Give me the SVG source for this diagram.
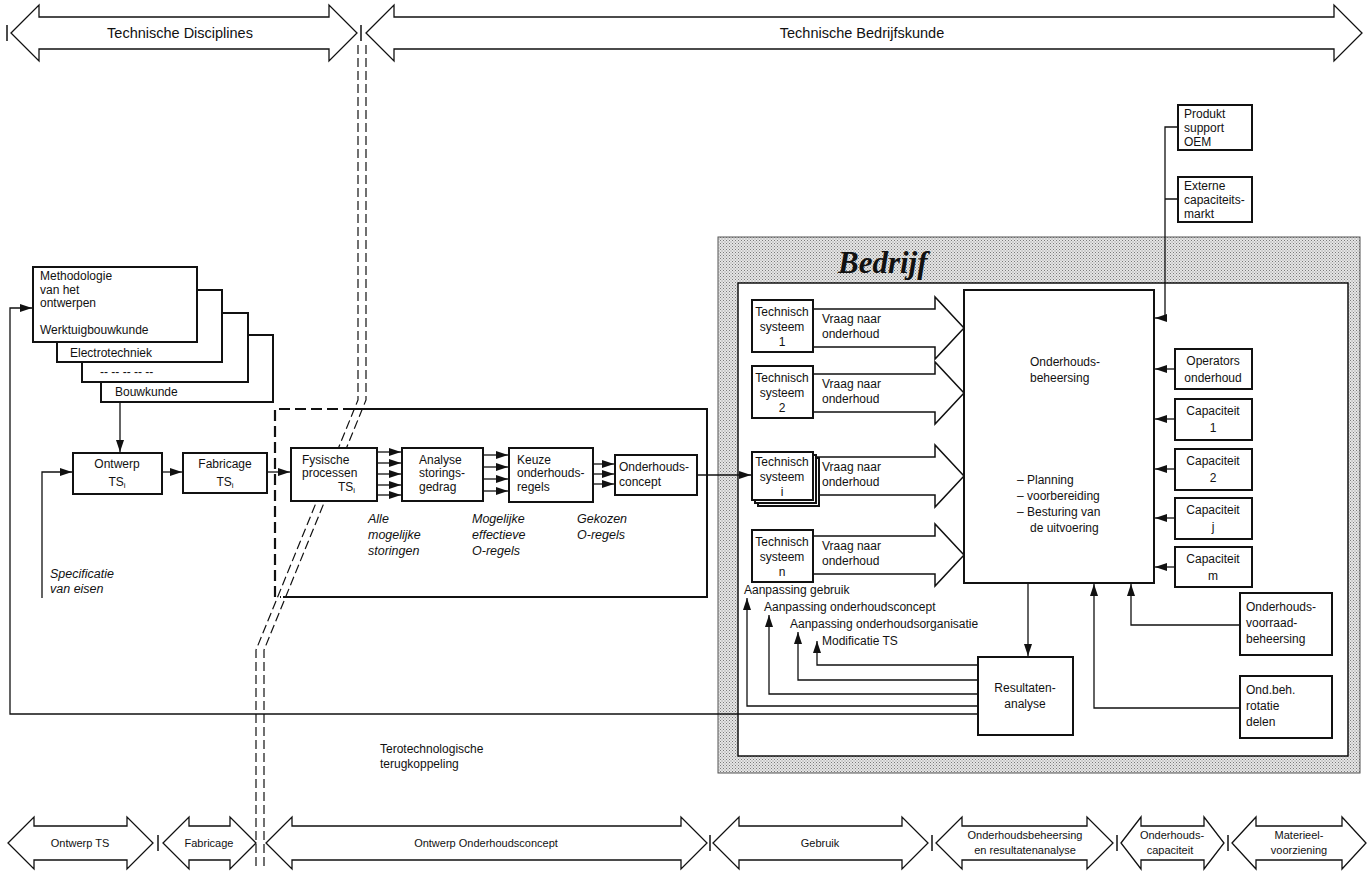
<svg xmlns="http://www.w3.org/2000/svg" width="1368" height="871" viewBox="0 0 1368 871">
<defs>
<style>
.t{font-family:"Liberation Sans",Arial,sans-serif;font-size:12px;fill:#111}
.c{text-anchor:middle}
.it{font-style:italic;font-size:12.5px}
.lab{font-size:14.5px}
.sm{font-size:11px}
.box{fill:#fff;stroke:#111;stroke-width:2}
.ln{fill:none;stroke:#111;stroke-width:1.3}
.big{fill:#fff;stroke:#111;stroke-width:1.3}
.dl{fill:none;stroke:#111;stroke-width:1.2;stroke-dasharray:9 4}
.dr{fill:none;stroke:#111;stroke-width:2.2;stroke-dasharray:11 5}
.bar{stroke:#111;stroke-width:1.5}
</style>
<marker id="a" viewBox="0 0 12 8" refX="12" refY="4" markerWidth="12" markerHeight="8" markerUnits="userSpaceOnUse" orient="auto"><path d="M0,0L12,4L0,8z" fill="#111"/></marker>
<pattern id="dots" width="3" height="3" patternUnits="userSpaceOnUse"><rect width="3" height="3" fill="#e6e6e6"/><rect width="1" height="1" fill="#7a7a7a"/><rect x="1.5" y="1.5" width="1" height="1" fill="#8a8a8a"/></pattern>
</defs>
<rect width="1368" height="871" fill="#fff"/>

<!-- phase arrows top -->
<g id="top-arrows">
<polygon class="big" points="11,33 39,5 39,17 329,17 329,5 357,33 329,61 329,49 39,49 39,61"/>
<polygon class="big" points="366,33 394,5 394,17 1334,17 1334,5 1362,33 1334,61 1334,49 394,49 394,61"/>
<line class="bar" x1="7" y1="25" x2="7" y2="41"/>
<line class="bar" x1="361" y1="25" x2="361" y2="41"/>
<text class="t lab c" x="180" y="38">Technische Disciplines</text>
<text class="t lab c" x="862" y="38">Technische Bedrijfskunde</text>
</g>

<!-- Bedrijf area -->
<g id="bedrijf">
<rect x="718" y="237" width="642" height="536" fill="url(#dots)" stroke="#555" stroke-width="1"/>
<text x="838" y="273" font-family="Liberation Serif,serif" font-size="31" font-weight="bold" font-style="italic" fill="#111">Bedrijf</text>
<rect x="738" y="283" width="610" height="473" fill="#fff" stroke="#111" stroke-width="1.5"/>
</g>

<!-- dashed boundary -->
<g id="boundary">
<path class="dl" d="M358,45V400L256,650V868"/>
<path class="dl" d="M366,45V400L264,650V868"/>
<path class="dr" d="M354,409H275V597H281"/>
<path class="ln" style="stroke-width:2" d="M354,409H707V597H283"/>
</g>

<!-- connectors -->
<g id="connectors">
<path class="ln" d="M120,402V452" marker-end="url(#a)"/>
<path class="ln" d="M42,598V472H72" marker-end="url(#a)"/>
<path class="ln" d="M162,472H182" marker-end="url(#a)"/>
<path class="ln" d="M267,472H290" marker-end="url(#a)"/>
<line class="ln" x1="377" y1="452" x2="401" y2="452" marker-end="url(#a)"/>
<line class="ln" x1="377" y1="463" x2="401" y2="463" marker-end="url(#a)"/>
<line class="ln" x1="377" y1="474" x2="401" y2="474" marker-end="url(#a)"/>
<line class="ln" x1="377" y1="485" x2="401" y2="485" marker-end="url(#a)"/>
<line class="ln" x1="377" y1="495" x2="401" y2="495" marker-end="url(#a)"/>
<line class="ln" x1="483" y1="455" x2="508" y2="455" marker-end="url(#a)"/>
<line class="ln" x1="483" y1="467" x2="508" y2="467" marker-end="url(#a)"/>
<line class="ln" x1="483" y1="479" x2="508" y2="479" marker-end="url(#a)"/>
<line class="ln" x1="483" y1="491" x2="508" y2="491" marker-end="url(#a)"/>
<line class="ln" x1="593" y1="464" x2="614" y2="464" marker-end="url(#a)"/>
<line class="ln" x1="593" y1="474" x2="614" y2="474" marker-end="url(#a)"/>
<line class="ln" x1="593" y1="484" x2="614" y2="484" marker-end="url(#a)"/>
<line class="ln" x1="697" y1="475" x2="751" y2="475" marker-end="url(#a)"/>
<path class="ln" d="M1178,127H1165V318M1178,199H1165"/>
<line class="ln" x1="1165" y1="318" x2="1155" y2="318" marker-end="url(#a)"/>
<line class="ln" x1="1175" y1="369" x2="1155" y2="369" marker-end="url(#a)"/>
<line class="ln" x1="1175" y1="419" x2="1155" y2="419" marker-end="url(#a)"/>
<line class="ln" x1="1175" y1="469" x2="1155" y2="469" marker-end="url(#a)"/>
<line class="ln" x1="1175" y1="518" x2="1155" y2="518" marker-end="url(#a)"/>
<line class="ln" x1="1175" y1="567" x2="1155" y2="567" marker-end="url(#a)"/>
<path class="ln" d="M1240,625H1131V584" marker-end="url(#a)"/>
<path class="ln" d="M1240,708H1094V584" marker-end="url(#a)"/>
<path class="ln" d="M1028,583V656" marker-end="url(#a)"/>
<path class="ln" d="M978,665H817V641" marker-end="url(#a)"/>
<path class="ln" d="M978,680H798V632" marker-end="url(#a)"/>
<path class="ln" d="M978,694H769V615" marker-end="url(#a)"/>
<path class="ln" d="M978,706H747V598" marker-end="url(#a)"/>
<path class="ln" d="M978,714H10V308H32" marker-end="url(#a)"/>
<polygon class="big" style="stroke-width:1.5" points="813,309 935,309 935,297 964,328 935,359 935,347 813,347"/>
<polygon class="big" style="stroke-width:1.5" points="813,374 935,374 935,362 964,393 935,424 935,412 813,412"/>
<polygon class="big" style="stroke-width:1.5" points="813,457 935,457 935,445 964,476 935,507 935,495 813,495"/>
<polygon class="big" style="stroke-width:1.5" points="813,536 935,536 935,524 964,555 935,586 935,574 813,574"/>
<text class="t" x="822" y="323">Vraag naar</text><text class="t" x="822" y="338">onderhoud</text>
<text class="t" x="822" y="388">Vraag naar</text><text class="t" x="822" y="403">onderhoud</text>
<text class="t" x="822" y="471">Vraag naar</text><text class="t" x="822" y="486">onderhoud</text>
<text class="t" x="822" y="550">Vraag naar</text><text class="t" x="822" y="565">onderhoud</text>
</g>

<!-- left stack -->
<g id="bouwkunde"><rect class="box" x="101" y="335" width="172" height="67"/><text class="t" x="115" y="396">Bouwkunde</text></g>
<g id="overig"><rect class="box" x="82" y="313" width="166" height="69"/><text class="t" x="100" y="376">-- -- -- -- --</text></g>
<g id="electrotechniek"><rect class="box" x="57" y="290" width="165" height="72"/><text class="t" x="70" y="357">Electrotechniek</text></g>
<g id="methodologie"><rect class="box" x="33" y="267" width="164" height="75"/>
<text class="t" x="40" y="280">Methodologie</text><text class="t" x="40" y="294">van het</text><text class="t" x="40" y="307">ontwerpen</text><text class="t" x="40" y="334">Werktuigbouwkunde</text></g>

<g id="ontwerp"><rect class="box" x="73" y="453" width="89" height="41"/><text class="t c" x="117" y="468">Ontwerp</text><text class="t c" x="117" y="486">TS<tspan font-size="8" dy="2">i</tspan></text></g>
<g id="fabricage"><rect class="box" x="183" y="453" width="84" height="40"/><text class="t c" x="225" y="468">Fabricage</text><text class="t c" x="225" y="486">TS<tspan font-size="8" dy="2">i</tspan></text></g>
<text class="t it" x="50" y="578">Specificatie</text><text class="t it" x="50" y="593">van eisen</text>

<g id="fysische"><rect class="box" x="291" y="448" width="86" height="53"/><text class="t" x="302" y="464">Fysische</text><text class="t" x="302" y="477">processen</text><text class="t" x="338" y="491">TS<tspan font-size="8" dy="2">i</tspan></text></g>
<g id="analyse"><rect class="box" x="402" y="448" width="81" height="53"/><text class="t" x="419" y="464">Analyse</text><text class="t" x="419" y="477">storings-</text><text class="t" x="419" y="491">gedrag</text></g>
<g id="keuze"><rect class="box" x="509" y="448" width="84" height="54"/><text class="t" x="517" y="464">Keuze</text><text class="t" x="517" y="477">onderhouds-</text><text class="t" x="517" y="491">regels</text></g>
<g id="onderhoudsconcept"><rect class="box" x="615" y="455" width="82" height="40"/><text class="t" x="619" y="471">Onderhouds-</text><text class="t" x="619" y="486">concept</text></g>
<g id="labels-mid">
<text class="t it" x="368" y="523">Alle</text><text class="t it" x="368" y="539">mogelijke</text><text class="t it" x="368" y="555">storingen</text>
<text class="t it" x="472" y="523">Mogelijke</text><text class="t it" x="472" y="539">effectieve</text><text class="t it" x="472" y="555">O-regels</text>
<text class="t it" x="577" y="523">Gekozen</text><text class="t it" x="577" y="539">O-regels</text>
<text class="t" x="380" y="753">Terotechnologische</text><text class="t" x="380" y="768">terugkoppeling</text>
</g>

<!-- Bedrijf nodes -->
<g id="ts1"><rect class="box" x="752" y="300" width="61" height="52"/><text class="t c" x="782" y="316">Technisch</text><text class="t c" x="782" y="331">systeem</text><text class="t c" x="782" y="346">1</text></g>
<g id="ts2"><rect class="box" x="752" y="366" width="61" height="52"/><text class="t c" x="782" y="382">Technisch</text><text class="t c" x="782" y="397">systeem</text><text class="t c" x="782" y="412">2</text></g>
<g id="tsi"><rect class="box" x="758" y="458" width="61" height="48"/><rect class="box" x="755" y="455" width="61" height="48"/><rect class="box" x="752" y="452" width="61" height="48"/><text class="t c" x="782" y="466">Technisch</text><text class="t c" x="782" y="481">systeem</text><text class="t c" x="782" y="496">i</text></g>
<g id="tsn"><rect class="box" x="752" y="530" width="61" height="52"/><text class="t c" x="782" y="546">Technisch</text><text class="t c" x="782" y="561">systeem</text><text class="t c" x="782" y="576">n</text></g>

<g id="beheersing"><rect class="box" x="964" y="290" width="190" height="293"/>
<text class="t" x="1030" y="366">Onderhouds-</text><text class="t" x="1030" y="382">beheersing</text>
<text class="t" x="1017" y="484">– Planning</text><text class="t" x="1017" y="500">– voorbereiding</text><text class="t" x="1017" y="516">– Besturing van</text><text class="t" x="1030" y="532">de uitvoering</text></g>

<g id="produkt"><rect class="box" x="1178" y="105" width="74" height="45"/><text class="t" x="1184" y="118">Produkt</text><text class="t" x="1184" y="132">support</text><text class="t" x="1184" y="146">OEM</text></g>
<g id="externe"><rect class="box" x="1178" y="177" width="74" height="45"/><text class="t" x="1184" y="190">Externe</text><text class="t" x="1184" y="204">capaciteits-</text><text class="t" x="1184" y="218">markt</text></g>

<g id="operators"><rect class="box" x="1175" y="349" width="77" height="40"/><text class="t c" x="1213" y="365">Operators</text><text class="t c" x="1213" y="382">onderhoud</text></g>
<g id="cap1"><rect class="box" x="1175" y="399" width="77" height="41"/><text class="t c" x="1213" y="415">Capaciteit</text><text class="t c" x="1213" y="432">1</text></g>
<g id="cap2"><rect class="box" x="1175" y="449" width="77" height="41"/><text class="t c" x="1213" y="465">Capaciteit</text><text class="t c" x="1213" y="482">2</text></g>
<g id="capj"><rect class="box" x="1175" y="498" width="77" height="41"/><text class="t c" x="1213" y="514">Capaciteit</text><text class="t c" x="1213" y="531">j</text></g>
<g id="capm"><rect class="box" x="1175" y="547" width="77" height="40"/><text class="t c" x="1213" y="563">Capaciteit</text><text class="t c" x="1213" y="580">m</text></g>

<g id="voorraad"><rect class="box" x="1240" y="593" width="92" height="62"/><text class="t" x="1246" y="611">Onderhouds-</text><text class="t" x="1246" y="627">voorraad-</text><text class="t" x="1246" y="643">beheersing</text></g>
<g id="rotatie"><rect class="box" x="1240" y="676" width="92" height="62"/><text class="t" x="1246" y="694">Ond.beh.</text><text class="t" x="1246" y="710">rotatie</text><text class="t" x="1246" y="726">delen</text></g>
<g id="resultaten"><rect class="box" x="978" y="657" width="95" height="78"/><text class="t c" x="1025" y="692">Resultaten-</text><text class="t c" x="1025" y="708">analyse</text></g>

<g id="feedback-labels">
<text class="t" x="744" y="594">Aanpassing gebruik</text>
<text class="t" x="764" y="611">Aanpassing onderhoudsconcept</text>
<text class="t" x="790" y="628">Aanpassing onderhoudsorganisatie</text>
<text class="t" x="822" y="645">Modificatie TS</text>
</g>

<!-- phase arrows bottom -->
<g id="bottom-arrows">
<polygon class="big" points="8,843 34,817 34,826 127,826 127,817 153,843 127,869 127,860 34,860 34,869"/>
<polygon class="big" points="163,843 189,817 189,826 230,826 230,817 256,843 230,869 230,860 189,860 189,869"/>
<polygon class="big" points="266,843 292,817 292,826 681,826 681,817 707,843 681,869 681,860 292,860 292,869"/>
<polygon class="big" points="713,843 739,817 739,826 902,826 902,817 928,843 902,869 902,860 739,860 739,869"/>
<polygon class="big" points="936,843 962,817 962,826 1087,826 1087,817 1113,843 1087,869 1087,860 962,860 962,869"/>
<polygon class="big" points="1121,843 1141,817 1141,826 1204,826 1204,817 1224,843 1204,869 1204,860 1141,860 1141,869"/>
<polygon class="big" points="1232,843 1256,817 1256,826 1342,826 1342,817 1366,843 1342,869 1342,860 1256,860 1256,869"/>
<line class="bar" x1="158" y1="835" x2="158" y2="851"/>
<line class="bar" x1="710" y1="835" x2="710" y2="851"/>
<line class="bar" x1="932" y1="835" x2="932" y2="851"/>
<line class="bar" x1="1117" y1="835" x2="1117" y2="851"/>
<line class="bar" x1="1228" y1="835" x2="1228" y2="851"/>
<text class="t sm c" x="80" y="847">Ontwerp TS</text>
<text class="t sm c" x="209" y="847">Fabricage</text>
<text class="t sm c" x="486" y="847">Ontwerp Onderhoudsconcept</text>
<text class="t sm c" x="820" y="847">Gebruik</text>
<text class="t sm c" x="1025" y="839">Onderhoudsbeheersing</text><text class="t sm c" x="1025" y="854">en resultatenanalyse</text>
<text class="t sm c" x="1172" y="839">Onderhouds-</text><text class="t sm c" x="1170" y="854">capaciteit</text>
<text class="t sm c" x="1299" y="839">Materieel-</text><text class="t sm c" x="1299" y="854">voorziening</text>
</g>
</svg>
